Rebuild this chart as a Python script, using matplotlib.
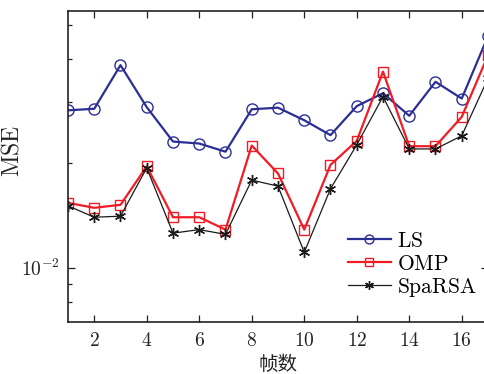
import numpy as np
import matplotlib
matplotlib.use('Agg')
import matplotlib.pyplot as plt
from matplotlib.ticker import FixedLocator, FixedFormatter, NullFormatter

plt.rcParams['mathtext.fontset'] = 'cm'
plt.rcParams['font.family'] = ['Noto Sans CJK SC', 'DejaVu Sans']

# frame index
frames = np.arange(1, 18)

# MSE values
mse_ls = [0.0284, 0.0287, 0.0383, 0.0290, 0.0231, 0.0228, 0.0216, 0.0286, 0.0289,
          0.0266, 0.0241, 0.0292, 0.0318, 0.0274, 0.0343, 0.0307, 0.0464]
mse_omp = [0.0154, 0.0149, 0.0152, 0.0196, 0.0140, 0.0140, 0.0129, 0.0225, 0.0187,
           0.0129, 0.0198, 0.0232, 0.0367, 0.0224, 0.0224, 0.0272, 0.0409]
mse_sparsa = [0.0151, 0.0140, 0.0141, 0.0194, 0.0126, 0.0129, 0.0125, 0.0179, 0.0172,
              0.0111, 0.0169, 0.0226, 0.0311, 0.0220, 0.0220, 0.0240, 0.0351]

xticks = [2, 4, 6, 8, 10, 12, 14, 16]

fig = plt.figure(figsize=(4.85, 3.74), dpi=100)
ax = fig.add_axes([68 / 485, 52 / 374, 420 / 485, 311 / 374])

ax.plot(frames, mse_ls, color='#2B2F94', lw=1.6, marker='o', ms=8,
        mfc='none', mec='#2B2F94', mew=1.0, label=r'$\mathrm{LS}$')
ax.plot(frames, mse_omp, color='#F01C24', lw=1.6, marker='s', ms=7,
        mfc='none', mec='#F01C24', mew=1.0, label=r'$\mathrm{OMP}$')
ax.plot(frames, mse_sparsa, color='#1A1A1A', lw=0.9, marker=(6, 2, 0), ms=8,
        mew=1.0, label=r'$\mathrm{SpaRSA}$')

ax.set_yscale('log')
ax.set_xlim(1, 17)
ax.set_ylim(7.0e-3, 5.48e-2)

ax.xaxis.set_major_locator(FixedLocator(xticks))
ax.xaxis.set_major_formatter(FixedFormatter([r'$%d$' % t for t in xticks]))
ax.yaxis.set_major_locator(FixedLocator([1e-2]))
ax.yaxis.set_major_formatter(FixedFormatter([r'$10^{-2}$']))
ax.yaxis.set_minor_locator(FixedLocator([8e-3, 9e-3, 2e-2, 3e-2, 4e-2, 5e-2]))
ax.yaxis.set_minor_formatter(NullFormatter())
ax.xaxis.set_minor_locator(FixedLocator([]))

ax.tick_params(which='both', direction='in', top=True, right=True, labelsize=14,
               colors='#222222', width=0.9)
ax.tick_params(which='major', length=5, pad=6)
ax.tick_params(which='minor', length=3)
for s in ax.spines.values():
    s.set_linewidth(1.2)
    s.set_color('#222222')

ax.set_ylabel(r'$\mathrm{MSE}$', fontsize=17, color='#222222')
ax.yaxis.set_label_coords(-0.105, 0.55)
ax.set_xlabel('帧数', fontsize=14, color='#222222', labelpad=2)

ax.legend(loc='lower right', bbox_to_anchor=(1.025, 0.005), frameon=False, fontsize=15.5,
          handlelength=2.0, handletextpad=0.3, labelspacing=0.05, markerscale=0.8,
          borderaxespad=0.6)

fig.savefig('out.png', dpi=100)
